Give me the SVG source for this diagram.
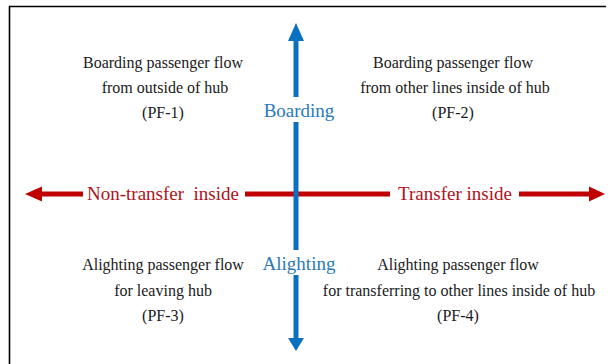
<svg xmlns="http://www.w3.org/2000/svg" width="612" height="364" viewBox="0 0 612 364">
  <style>
    .t { font-family: "Liberation Serif", "Times New Roman", serif; font-size: 16px; fill: #1a1a1a; text-anchor: middle; }
    .blue { font-family: "Liberation Serif", "Times New Roman", serif; font-size: 19px; fill: #2a7ab8; text-anchor: middle; }
    .red { font-family: "Liberation Serif", "Times New Roman", serif; font-size: 19px; fill: #b0121b; text-anchor: middle; }
    .hshaft { stroke: #c00000; stroke-width: 5; fill: none; }
    .vshaft { stroke: #0a70bf; stroke-width: 5; fill: none; }
  </style>
  <rect width="612" height="364" fill="#ffffff"/>
  <path d="M9.5 364 V6.5 H606" fill="none" stroke="#000" stroke-width="1.6"/>

  <g id="connectors">
    <g id="horizontal-axis">
      <line class="hshaft" x1="40" y1="194" x2="83" y2="194"/>
      <line class="hshaft" x1="245" y1="194" x2="390" y2="194"/>
      <line class="hshaft" x1="519" y1="194" x2="591" y2="194"/>
      <polygon points="25,194 42,186.5 42,201.5" fill="#c00000"/>
      <polygon points="605,194 589,186.5 589,201.5" fill="#c00000"/>
    </g>
    <g id="vertical-axis">
      <line class="vshaft" x1="296" y1="39" x2="296" y2="97"/>
      <line class="vshaft" x1="296" y1="122" x2="296" y2="250"/>
      <line class="vshaft" x1="296" y1="275" x2="296" y2="340"/>
      <polygon points="296,23 288,41 304,41" fill="#0a70bf"/>
      <polygon points="296,351 288,338 304,338" fill="#0a70bf"/>
    </g>
  </g>

  <g id="label-boarding"><text class="blue" x="299" y="117">Boarding</text></g>
  <g id="label-alighting"><text class="blue" x="299" y="270">Alighting</text></g>
  <g id="label-non-transfer"><text class="red" x="163" y="200" xml:space="preserve">Non-transfer  inside</text></g>
  <g id="label-transfer"><text class="red" x="455" y="200">Transfer inside</text></g>

  <g id="pf1">
    <text class="t" x="163" y="68">Boarding passenger flow</text>
    <text class="t" x="165" y="93">from outside of hub</text>
    <text class="t" x="163" y="118">(PF-1)</text>
  </g>
  <g id="pf2">
    <text class="t" x="453" y="68">Boarding passenger flow</text>
    <text class="t" x="455" y="93">from other lines inside of hub</text>
    <text class="t" x="453" y="118">(PF-2)</text>
  </g>
  <g id="pf3">
    <text class="t" x="163" y="270">Alighting passenger flow</text>
    <text class="t" x="163" y="296">for leaving hub</text>
    <text class="t" x="163" y="321">(PF-3)</text>
  </g>
  <g id="pf4">
    <text class="t" x="458" y="270">Alighting passenger flow</text>
    <text class="t" x="459" y="296">for transferring to other lines inside of hub</text>
    <text class="t" x="458" y="321">(PF-4)</text>
  </g>
</svg>
